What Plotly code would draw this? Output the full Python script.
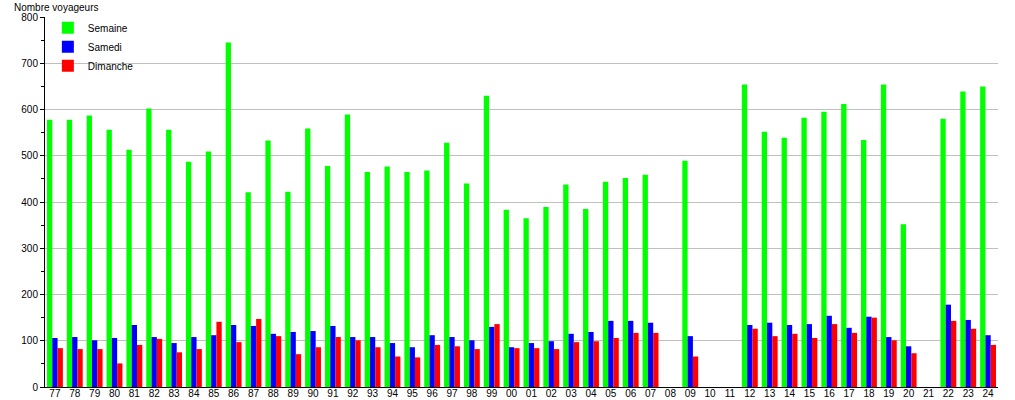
import plotly.graph_objects as go

annees = ['77', '78', '79', '80', '81', '82', '83', '84', '85', '86', '87', '88',
          '89', '90', '91', '92', '93', '94', '95', '96', '97', '98', '99', '00',
          '01', '02', '03', '04', '05', '06', '07', '08', '09', '10', '11', '12',
          '13', '14', '15', '16', '17', '18', '19', '20', '21', '22', '23', '24']

semaine = [578, 578, 587, 556, 513, 602, 556, 487, 509, 745, 421, 533,
           422, 559, 478, 589, 465, 477, 465, 468, 528, 440, 630, 383,
           365, 389, 438, 385, 444, 452, 459, None, 489, None, None, 654,
           552, 539, 582, 595, 612, 534, 654, 352, None, 580, 639, 650]

samedi = [106, 108, 101, 106, 134, 108, 95, 108, 112, 134, 132, 115,
          119, 121, 132, 108, 108, 95, 86, 112, 108, 101, 130, 86,
          95, 99, 115, 119, 143, 143, 139, None, 110, None, None, 134,
          139, 134, 136, 154, 128, 152, 108, 88, None, 178, 145, 112]

dimanche = [84, 82, 82, 51, 91, 104, 75, 82, 141, 97, 147, 110,
            71, 86, 108, 101, 86, 66, 64, 91, 88, 82, 136, 84,
            84, 82, 97, 99, 106, 117, 117, None, 66, None, None, 126,
            110, 115, 106, 136, 117, 150, 101, 73, None, 143, 126, 91]

fig = go.Figure()
fig.add_trace(go.Bar(x=annees, y=semaine, name='Semaine', marker_color='#00ff00', marker_line_width=0))
fig.add_trace(go.Bar(x=annees, y=samedi, name='Samedi', marker_color='#0000ff', marker_line_width=0))
fig.add_trace(go.Bar(x=annees, y=dimanche, name='Dimanche', marker_color='#ff0000', marker_line_width=0))

fig.update_layout(
    width=1015,
    height=400,
    barmode='group',
    bargap=0.2,
    bargroupgap=0,
    plot_bgcolor='white',
    paper_bgcolor='white',
    font=dict(family='Liberation Sans, Arial, sans-serif', size=10, color='black'),
    margin=dict(l=45, r=17, t=17, b=13),
    legend=dict(
        x=0.003,
        y=1.01,
        xanchor='left',
        yanchor='top',
        bgcolor='rgba(0,0,0,0)',
        font=dict(size=10),
        tracegroupgap=0
    ),
    annotations=[dict(
        text='Nombre voyageurs',
        xref='paper', yref='paper',
        x=-0.035, y=1.0,
        xanchor='left', yanchor='bottom',
        yshift=2,
        showarrow=False,
        font=dict(size=10)
    )]
)

fig.update_xaxes(
    type='category',
    automargin=False,
    showline=True,
    linecolor='black',
    linewidth=1,
    showgrid=False,
    ticks='',
    ticklabelstandoff=-3,
    tickfont=dict(size=10),
    range=[-0.5, 47.5]
)
fig.update_yaxes(
    automargin=False,
    range=[0, 800],
    dtick=100,
    showline=True,
    linecolor='black',
    linewidth=1,
    showgrid=True,
    gridcolor='#c0c0c0',
    zeroline=False,
    ticks='outside',
    ticklen=4,
    tickcolor='black',
    minor=dict(dtick=50, ticks='outside', ticklen=3, tickcolor='black', showgrid=False),
    tickfont=dict(size=10)
)

# page body has a default 8px margin, drop it so the figure sits at 0,0
fig.write_html('out.html', config={'displayModeBar': False},
               post_script="document.body.style.margin='0';")
